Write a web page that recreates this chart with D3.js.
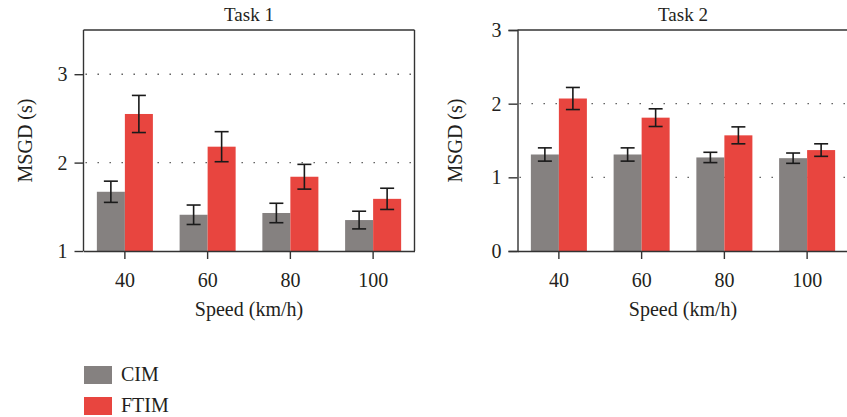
<!DOCTYPE html>
<html>
<head>
<meta charset="utf-8">
<script src="https://cdn.jsdelivr.net/npm/d3@7"></script>
<style>
  body { margin: 0; background: #fff; }
  svg text { font-family: "Liberation Serif", "DejaVu Serif", serif; fill: #231f20; }
</style>
</head>
<body>
<div class="chart-wrapper"></div>
<script>
// data
var speeds = ["40", "60", "80", "100"];
var seriesNames = ["CIM", "FTIM"];
var seriesColors = ["#858180", "#e8453f"];

var task1Cim = [1.67, 1.41, 1.43, 1.35];
var task1CimErr = [0.12, 0.11, 0.11, 0.10];
var task1Ftim = [2.55, 2.18, 1.84, 1.59];
var task1FtimErr = [0.21, 0.17, 0.14, 0.12];

var task2Cim = [1.31, 1.31, 1.27, 1.26];
var task2CimErr = [0.09, 0.09, 0.07, 0.07];
var task2Ftim = [2.07, 1.81, 1.57, 1.37];
var task2FtimErr = [0.15, 0.12, 0.115, 0.085];

var task1Ticks = [1, 2, 3];
var task1Grid = [2, 3];
var task2Ticks = [0, 1, 2, 3];
var task2Grid = [1, 2];

var svg = d3.select(".chart-wrapper").append("svg").attr("width", 847).attr("height", 417);

var plotW = 331, plotH = 221;

var drawPanel = function(opts) {
  var g = svg.append("g").attr("transform", "translate(" + opts.left + "," + opts.top + ")");

  var x0 = d3.scaleBand().domain(speeds).range([0, plotW]).paddingInner(0.323).paddingOuter(0.1615);
  var x1 = d3.scaleBand().domain(seriesNames).range([0, x0.bandwidth()]);
  var y = d3.scaleLinear().domain(opts.domain).range([plotH, 0]);

  // dotted grid lines, drawn under the bars
  g.selectAll(".grid").data(opts.grid).enter().append("line")
    .attr("x1", 0).attr("x2", plotW)
    .attr("y1", function(d) { return y(d); }).attr("y2", function(d) { return y(d); })
    .attr("stroke", "#555").attr("stroke-width", 1.4)
    .attr("stroke-dasharray", "1.4,10.6").attr("stroke-dashoffset", -2);

  var rows = speeds.map(function(s, i) {
    return [
      {speed: s, name: "CIM", v: opts.cim[i], e: opts.cimErr[i], c: seriesColors[0]},
      {speed: s, name: "FTIM", v: opts.ftim[i], e: opts.ftimErr[i], c: seriesColors[1]}
    ];
  });
  var flat = [].concat.apply([], rows);

  g.selectAll(".bar").data(flat).enter().append("rect")
    .attr("x", function(d) { return x0(d.speed) + x1(d.name); })
    .attr("width", x1.bandwidth())
    .attr("y", function(d) { return y(d.v); })
    .attr("height", function(d) { return y(opts.domain[0]) - y(d.v); })
    .attr("fill", function(d) { return d.c; });

  // error bars
  var cx = function(d) { return x0(d.speed) + x1(d.name) + x1.bandwidth() / 2; };
  var eb = g.selectAll(".err").data(flat).enter().append("g").attr("stroke", "#1a1a1a").attr("stroke-width", 1.6);
  eb.append("line").attr("x1", cx).attr("x2", cx)
    .attr("y1", function(d) { return y(d.v + d.e); }).attr("y2", function(d) { return y(d.v - d.e); });
  eb.append("line").attr("x1", function(d) { return cx(d) - 7; }).attr("x2", function(d) { return cx(d) + 7; })
    .attr("y1", function(d) { return y(d.v + d.e); }).attr("y2", function(d) { return y(d.v + d.e); });
  eb.append("line").attr("x1", function(d) { return cx(d) - 7; }).attr("x2", function(d) { return cx(d) + 7; })
    .attr("y1", function(d) { return y(d.v - d.e); }).attr("y2", function(d) { return y(d.v - d.e); });

  // frame
  var frame = g.append("g").attr("stroke", "#333").attr("stroke-width", 1.4);
  frame.append("line").attr("x1", 0).attr("x2", plotW).attr("y1", 0).attr("y2", 0);
  frame.append("line").attr("x1", plotW).attr("x2", plotW).attr("y1", 0).attr("y2", plotH);

  // axes
  var yAxis = g.append("g").call(d3.axisLeft(y).tickValues(opts.ticks).tickFormat(d3.format("d")).tickSize(9).tickPadding(7));
  var xAxis = g.append("g").attr("transform", "translate(0," + plotH + ")")
    .call(d3.axisBottom(x0).tickSize(8).tickPadding(14).tickSizeOuter(0));
  [yAxis, xAxis].forEach(function(a) {
    a.select(".domain").attr("stroke", "#333").attr("stroke-width", 1.4);
    a.selectAll(".tick line").attr("stroke", "#333").attr("stroke-width", 1.4);
    a.selectAll("text").attr("font-size", 20).attr("fill", "#231f20")
      .style("font-family", "'Liberation Serif', serif");
  });
  if (opts.domain[0] !== 0) {
    yAxis.select(".domain").attr("d", "M0,0V" + plotH);
  }

  g.append("text").attr("x", plotW / 2).attr("y", -9).attr("text-anchor", "middle")
    .attr("font-size", 19).text(opts.title);
  g.append("text").attr("x", plotW / 2).attr("y", plotH + 65).attr("text-anchor", "middle")
    .attr("font-size", 20).text("Speed (km/h)");
  g.append("text").attr("transform", "translate(" + (opts.ylabX) + "," + (plotH / 2) + ") rotate(-90)")
    .attr("text-anchor", "middle").attr("font-size", 20).text("MSGD (s)");
};

drawPanel({left: 83.5, top: 30, domain: [1, 3.5], ticks: task1Ticks, grid: task1Grid,
  cim: task1Cim, cimErr: task1CimErr, ftim: task1Ftim, ftimErr: task1FtimErr, title: "Task 1", ylabX: -52});
drawPanel({left: 517.5, top: 30, domain: [0, 3], ticks: task2Ticks, grid: task2Grid,
  cim: task2Cim, cimErr: task2CimErr, ftim: task2Ftim, ftimErr: task2FtimErr, title: "Task 2", ylabX: -56});

// legend
var legend = svg.append("g").attr("transform", "translate(84,366)");
var item = legend.selectAll(".item").data(seriesNames).enter().append("g")
  .attr("transform", function(d, i) { return "translate(0," + (i * 31) + ")"; });
item.append("rect").attr("width", 28).attr("height", 18)
  .attr("fill", function(d, i) { return seriesColors[i]; });
item.append("text").attr("x", 37).attr("y", 15).attr("font-size", 20).text(function(d) { return d; });
</script>
</body>
</html>
